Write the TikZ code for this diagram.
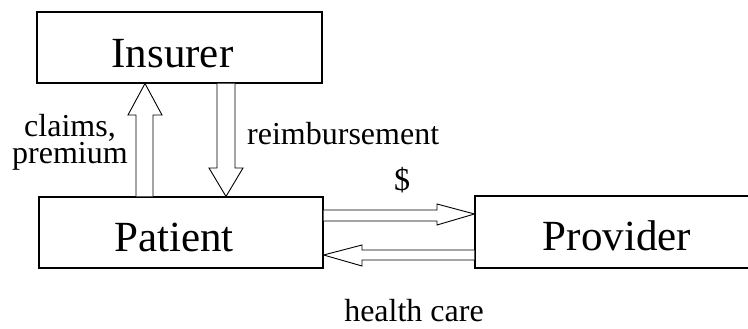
\documentclass[tikz,border=0pt]{standalone}
\usepackage{fontspec}
\setmainfont{Liberation Serif}
\usetikzlibrary{calc}
\begin{document}
\begin{tikzpicture}[x=1pt,y=-1pt,
  box/.style={draw, line width=1.1pt, inner sep=0pt},
  big/.style={font=\fontsize{43}{48}\selectfont, inner sep=0pt, anchor=base},
  small/.style={font=\fontsize{32}{36}\selectfont, inner sep=0pt, anchor=base},
  harrow/.style={draw, line width=0.9pt, fill=white, line join=miter}]
\useasboundingbox (0,0) rectangle (748,329);
\clip (0,0) rectangle (748,329);
\node[box, minimum width=285pt, minimum height=71pt] (insurer) at (179.5,47.5) {};
\node[box, minimum width=284pt, minimum height=71pt] (patient) at (181,232.5) {};
\node[box, minimum width=290pt, minimum height=72pt] (provider) at (620,232) {};
\node[big] (tins) at (172.5,68) {Insurer};
\node[big] (tpat) at (174,251) {Patient};
\node[big] (tpro) at (617,250) {Provider};
% up arrow (claims, premium)
\draw[harrow] (136,0 |- patient.north) -- (136,115) -- (128,115) -- (145,0 |- insurer.south)
  -- (162,115) -- (153,115) -- (153,0 |- patient.north);
% down arrow (reimbursement)
\draw[harrow] (217,0 |- insurer.south) -- (217,168) -- (209,168) -- (226,0 |- patient.north)
  -- (243,168) -- (235,168) -- (235,0 |- insurer.south);
% right arrow ($)
\draw[harrow] (patient.east |- 0,210) -- (437,210) -- (437,204) -- (provider.west |- 0,214)
  -- (437,225) -- (437,221) -- (patient.east |- 0,221);
% left arrow (health care)
\draw[harrow] (provider.west |- 0,250) -- (362,250) -- (362,245) -- (patient.east |- 0,255)
  -- (362,266) -- (362,260) -- (provider.west |- 0,260);
\node[small, align=center, font=\fontsize{32}{25.5}\selectfont] (lclaims) at (70,163.5) {claims,\\premium};
\node[small, anchor=base west] (lreim) at (247,145) {reimbursement};
\node[small] (ldollar) at (402,190) {\$};
\node[small] (lhealth) at (414,321) {health care};
\end{tikzpicture}
\end{document}
